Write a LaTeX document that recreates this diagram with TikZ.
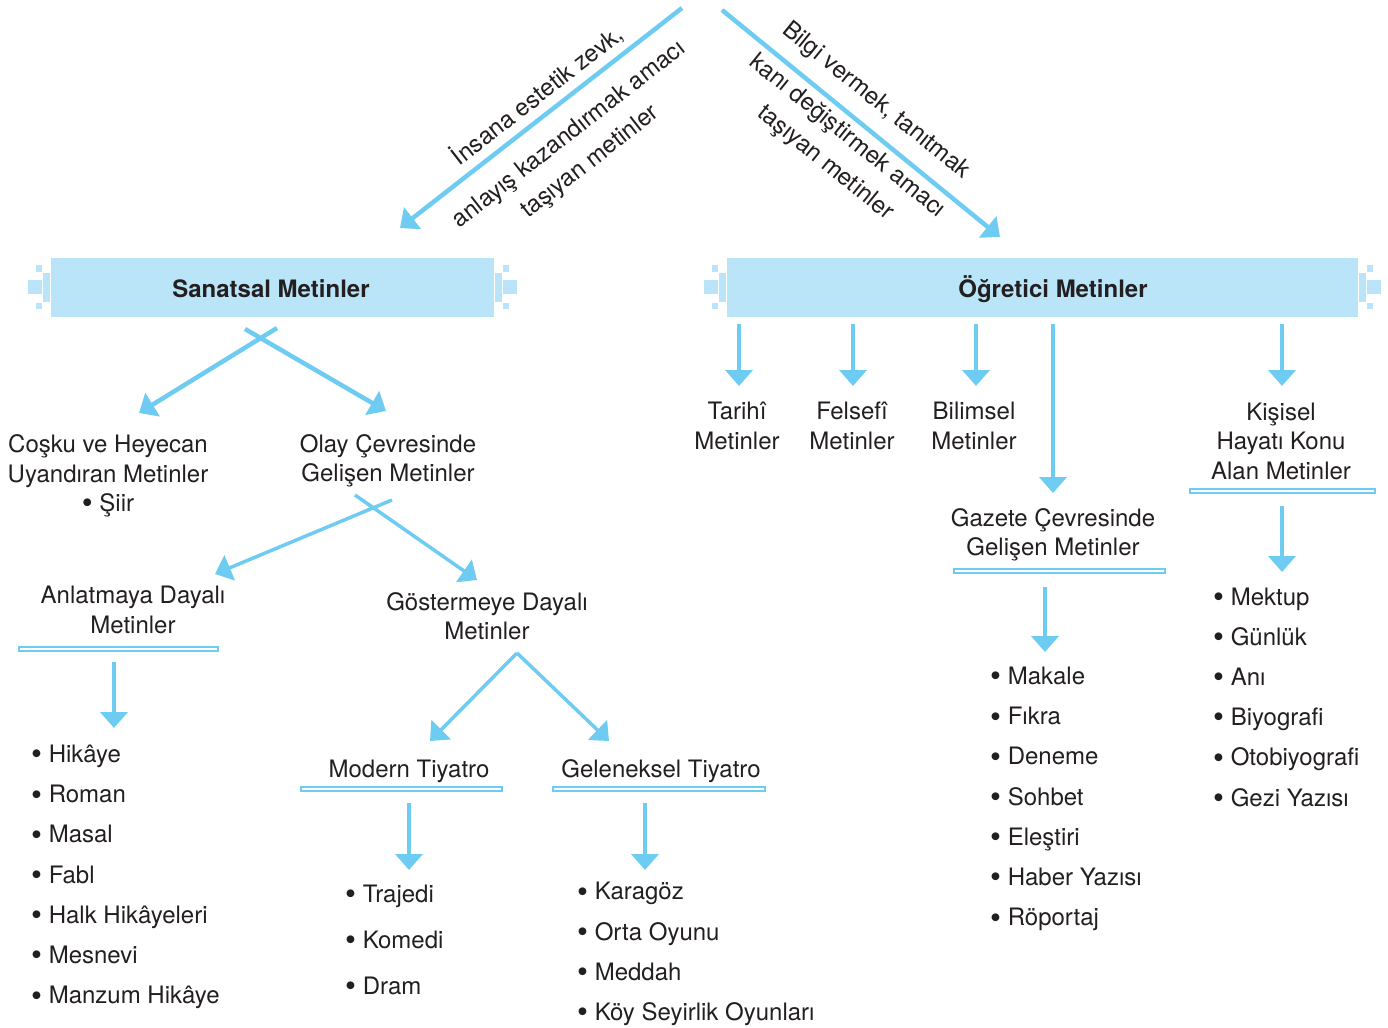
\documentclass[tikz,border=0pt]{standalone}
\usepackage{fontspec}
\setmainfont{TeX Gyre Heros}
\usetikzlibrary{arrows.meta}
\definecolor{lightBlue}{RGB}{186, 229, 249}
\definecolor{darkBlue} {RGB}{110, 204, 242}
\definecolor{ink}      {RGB}{35,  31,  32}

\newcommand{\notches}[2]{%
  \begin{scope}[shift={(#1)}, xscale=#2]
    \path[banner] (-8,-15) rectangle (0,15);
    \path[banner] (-23,-8) rectangle (-8,7);
    \path[banner] (-15,-23) rectangle (-8,-15);
    \path[banner] (-15,15) rectangle (-8,22);
  \end{scope}}
\newcommand{\bul}{\raisebox{-0.18ex}{\scalebox{1.3}{•}}}

\begin{document}
\begin{tikzpicture}[x=1pt, y=-1pt,
    every node/.style={font=\fontsize{24}{29.5}\selectfont, text=ink, align=center, inner sep=0pt},
    title/.style={font=\bfseries\fontsize{24}{29.5}\selectfont},
    slant/.style={font=\fontsize{24}{34.5}\selectfont},
    arr/.style={draw=darkBlue, line width=4pt, -{Triangle[length=16pt, width=27pt]}},
    bar/.style={draw=darkBlue, line width=2pt, fill=white},
    banner/.style={fill=lightBlue, draw=white, line width=0.6pt},
    bullets/.style={anchor=west, align=left, font=\fontsize{24}{40.2}\selectfont}]
  \useasboundingbox (0,0) rectangle (1388,1027);

  \coordinate (topL)   at (682, 8);
  \coordinate (sanIn)  at (400, 228);
  \coordinate (topR)   at (722, 10);
  \coordinate (ogIn)   at (1000, 237);
  \coordinate (sanL0)  at (277, 328);
  \coordinate (sanL1)  at (139, 413);
  \coordinate (sanR0)  at (245, 329);
  \coordinate (sanR1)  at (386, 411);
  \coordinate (olL0)   at (392, 500);
  \coordinate (olL1)   at (215, 574);
  \coordinate (olR0)   at (355, 495);
  \coordinate (olR1)   at (477, 580);
  \coordinate (apex)   at (517, 653);
  \coordinate (modIn)  at (430, 741);
  \coordinate (gelIn)  at (609, 741);
  \coordinate (anl0)   at (114, 662);
  \coordinate (anl1)   at (114, 728);
  \coordinate (mod0)   at (409, 803);
  \coordinate (mod1)   at (409, 870);
  \coordinate (gel0)   at (645, 803);
  \coordinate (gel1)   at (645, 870);
  \coordinate (tar0)   at (739, 324);
  \coordinate (tar1)   at (739, 386);
  \coordinate (fel0)   at (853, 324);
  \coordinate (fel1)   at (853, 386);
  \coordinate (bil0)   at (976, 324);
  \coordinate (bil1)   at (976, 386);
  \coordinate (gaz0)   at (1053, 324);
  \coordinate (gaz1)   at (1053, 493);
  \coordinate (kis0)   at (1282, 324);
  \coordinate (kis1)   at (1282, 386);
  \coordinate (kisL0)  at (1282, 506);
  \coordinate (kisL1)  at (1282, 572);
  \coordinate (gazL0)  at (1045, 587);
  \coordinate (gazL1)  at (1045, 652);

  \path[banner] (50, 257) rectangle (494, 317);
  \notches{50, 287}{1}
  \notches{494, 287}{-1}
  \path[banner] (726, 257) rectangle (1358, 317);
  \notches{726, 287}{1}
  \notches{1358, 287}{-1}

  \draw[arr, line width=4.5pt] (topL) -- (sanIn);
  \draw[arr, line width=4.5pt] (topR) -- (ogIn);
  \draw[arr, line width=4.5pt] (sanL0) -- (sanL1);
  \draw[arr, line width=4.5pt] (sanR0) -- (sanR1);
  \draw[arr, line width=3.5pt] (olL0) -- (olL1);
  \draw[arr, line width=3.5pt] (olR0) -- (olR1);
  \draw[arr, line width=3.5pt] (apex) -- (modIn);
  \draw[arr, line width=3.5pt] (apex) -- (gelIn);
  \draw[arr] (anl0) -- (anl1);
  \draw[arr] (mod0) -- (mod1);
  \draw[arr] (gel0) -- (gel1);
  \draw[arr] (tar0) -- (tar1);
  \draw[arr] (fel0) -- (fel1);
  \draw[arr] (bil0) -- (bil1);
  \draw[arr] (gaz0) -- (gaz1);
  \draw[arr] (kis0) -- (kis1);
  \draw[arr] (kisL0) -- (kisL1);
  \draw[arr] (gazL0) -- (gazL1);

  \draw[bar] (19, 647) rectangle (218, 651);
  \draw[bar] (301, 787) rectangle (502, 791);
  \draw[bar] (553, 787) rectangle (765, 791);
  \draw[bar] (1190, 489) rectangle (1375, 493);
  \draw[bar] (954, 569) rectangle (1165, 573);

  \node[rotate=38] (aimL1) at (537, 95) {İnsana estetik zevk,};
  \node[rotate=38, slant] (aimL2) at (580, 149) {anlayış kazandırmak amacı\\taşıyan metinler};
  \node[rotate=-39] (aimR1) at (876, 101) {Bilgi vermek, tanıtmak};
  \node[rotate=-39, slant] (aimR2) at (836, 150) {kanı değiştirmek amacı\\taşıyan metinler};

  \node[title] (san) at (271, 289) {Sanatsal Metinler};
  \node[title] (og)  at (1053, 289) {Öğretici Metinler};

  \node (cos)  at (108, 476) {Coşku ve Heyecan\\Uyandıran Metinler\\\bul{} Şiir};
  \node (olay) at (388, 461) {Olay Çevresinde\\Gelişen Metinler};
  \node (anl)  at (133, 610) {Anlatmaya Dayalı\\Metinler};
  \node (gos)  at (487, 616) {Göstermeye Dayalı\\Metinler};
  \node (mod)  at (409, 771) {Modern Tiyatro};
  \node (gel)  at (661, 771) {Geleneksel Tiyatro};
  \node (tar)  at (737, 426) {Tarihî\\Metinler};
  \node (fel)  at (852, 426) {Felsefî\\Metinler};
  \node (bil)  at (974, 426) {Bilimsel\\Metinler};
  \node (kis)  at (1281, 441) {Kişisel\\Hayatı Konu\\Alan Metinler};
  \node (gaz)  at (1053, 535) {Gazete Çevresinde\\Gelişen Metinler};

  \node[bullets] (anlList) at (31, 877) {\bul{} Hikâye\\\bul{} Roman\\\bul{} Masal\\\bul{} Fabl\\\bul{} Halk Hikâyeleri\\\bul{} Mesnevi\\\bul{} Manzum Hikâye};
  \node[bullets, font=\fontsize{24}{46}\selectfont] (modList) at (345, 941) {\bul{} Trajedi\\\bul{} Komedi\\\bul{} Dram};
  \node[bullets] (gelList) at (577, 954) {\bul{} Karagöz\\\bul{} Orta Oyunu\\\bul{} Meddah\\\bul{} Köy Seyirlik Oyunları};
  \node[bullets] (gazList) at (990, 799) {\bul{} Makale\\\bul{} Fıkra\\\bul{} Deneme\\\bul{} Sohbet\\\bul{} Eleştiri\\\bul{} Haber Yazısı\\\bul{} Röportaj};
  \node[bullets] (kisList) at (1213, 698) {\bul{} Mektup\\\bul{} Günlük\\\bul{} Anı\\\bul{} Biyografi\\\bul{} Otobiyografi\\\bul{} Gezi Yazısı};
\end{tikzpicture}
\end{document}
